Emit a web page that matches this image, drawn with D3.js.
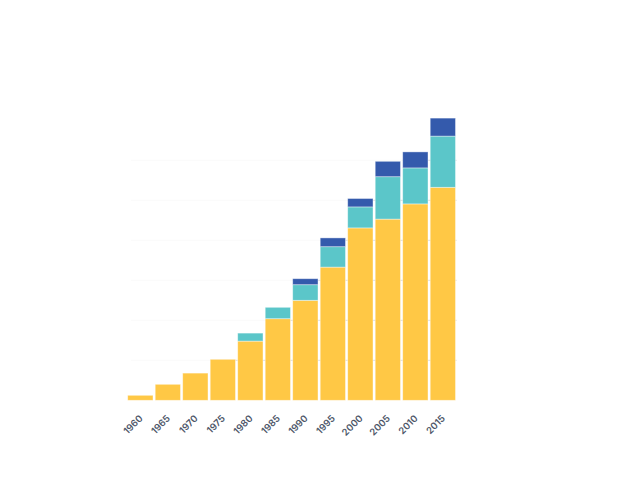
<!DOCTYPE html>
<html>
<head>
<meta charset="utf-8">
<script src="https://d3js.org/d3.v7.min.js"></script>
<style>
  body { margin: 0; background: #fff; }
  svg { display: block; }
</style>
</head>
<body>
<svg width="640" height="480"></svg>
<script>
const years = ["1960", "1965", "1970", "1975", "1980", "1985", "1990", "1995", "2000", "2005", "2010", "2015"];
const seriesA = [1.25, 4, 6.8, 10.25, 14.8, 20.4, 25, 33.3, 43.1, 45.3, 49.1, 53.25];
const seriesB = [0, 0, 0, 0, 2, 2.85, 3.9, 5.1, 5.25, 10.6, 9, 12.8];
const seriesC = [0, 0, 0, 0, 0, 0, 1.5, 2.2, 2.1, 3.85, 4, 4.5];
const gridTicks = [10, 20, 30, 40, 50, 60];

const keys = ["a", "b", "c"];
const colors = { a: "#ffc845", b: "#5bc6c9", c: "#345aac" };

const data = years.map((y, i) => ({ year: y, a: seriesA[i], b: seriesB[i], c: seriesC[i] }));
const totals = data.map(d => d.a + d.b + d.c);

const svg = d3.select("svg");

const x = d3.scaleBand()
    .domain(years)
    .range([126.6, 456.6])
    .paddingInner(0.08)
    .paddingOuter(0.04);

const y = d3.scaleLinear()
    .domain([0, 70])
    .range([400.3, 120.3]);

// grid: barely visible in the open, darker where it runs between bars
const grid = svg.append("g");
grid.selectAll("line.faint")
    .data(gridTicks)
    .enter().append("line")
    .attr("class", "faint")
    .attr("x1", 131)
    .attr("x2", 456.6)
    .attr("y1", d => y(d))
    .attr("y2", d => y(d))
    .attr("stroke", "#fafafa");

grid.selectAll("line.dark")
    .data(gridTicks.filter(t => totals.some(v => v > t)))
    .enter().append("line")
    .attr("class", "dark")
    .attr("x1", t => x(years[totals.findIndex(v => v > t)]))
    .attr("x2", 456.6)
    .attr("y1", d => y(d))
    .attr("y2", d => y(d))
    .attr("stroke", "#dedede");

const stack = d3.stack().keys(keys)(data);

svg.append("g")
    .selectAll("g")
    .data(stack)
    .enter().append("g")
    .attr("fill", d => colors[d.key])
    .selectAll("rect")
    .data(d => d.filter(s => s[1] - s[0] > 0))
    .enter().append("rect")
    .attr("x", d => x(d.data.year))
    .attr("y", d => y(d[1]))
    .attr("height", d => y(d[0]) - y(d[1]))
    .attr("width", x.bandwidth())
    .attr("stroke", "rgba(255,255,255,0.5)")
    .attr("stroke-width", 0.8);

// rotated year labels
svg.append("g")
    .selectAll("text")
    .data(years)
    .enter().append("text")
    .attr("transform", d => `translate(${x(d) + x.bandwidth() / 2 + 3},${419}) rotate(-45)`)
    .attr("text-anchor", "end")
    .attr("font-family", "Inter, 'Noto Sans', sans-serif")
    .attr("font-size", 9.5)
    .attr("font-weight", 600)
    .attr("fill", "#4d5668")
    .text(d => d);
</script>
</body>
</html>
